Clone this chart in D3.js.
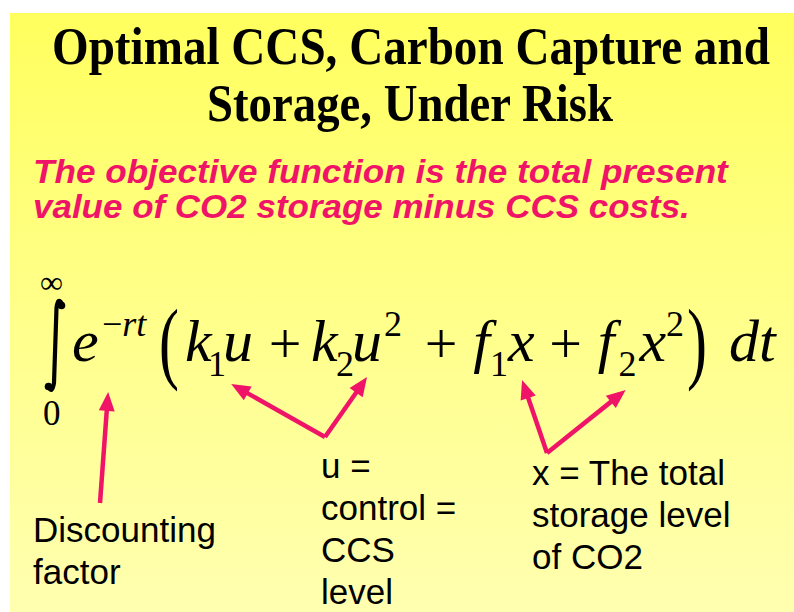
<!DOCTYPE html>
<html>
<head>
<meta charset="utf-8">
<script src="https://cdn.jsdelivr.net/npm/d3@7"></script>
<style>
  body { margin: 0; background: #fff; }
  svg { display: block; }
</style>
</head>
<body>
<div id="slide"></div>
<script>
// slide content
var titleLines = ["Optimal CCS, Carbon Capture and", "Storage, Under Risk"];
var subtitleLines = ["The objective function is the total present", "value of CO2 storage minus CCS costs."];
var integralUpper = "\u221E";
var integralLower = "0";

// formula tokens: text + role (var = italic, sub/sup = small)
var formulaText = ["e", "\u2212", "rt", "(", "k", "1", "u", "+", "k", "2", "u", "2", "+",
                   "f", "1", "x", "+", "f", "2", "x", "2", ")", "dt"];
var formulaRole = ["var", "supOp", "sup", "open", "var", "sub", "var", "op", "var", "sub", "var", "supNum", "op",
                   "var", "sub", "var", "op", "var", "sub", "var", "supNum", "close", "var"];
// tokens that are typeset together as one term
var formulaTerm = [0, 0, 0, 1, 2, 2, 2, 3, 4, 4, 4, 4, 5, 6, 6, 6, 7, 8, 8, 8, 8, 9, 10];

// notes under the formula
var labelLines = [
  ["Discounting", "factor"],
  ["u =", "control =", "CCS", "level"],
  ["x = The total", "storage level", "of CO2"]
];
// which label each arrow leaves from and which token it points at
var arrowLabel = [0, 1, 1, 2, 2];
var arrowToken = [1, 6, 10, 15, 18];

// layout
var width = 794, height = 612;
var pink = "#F01468";
var F = 60, FS = 36, FOP = 58;
var baseY = 361;
var gaps = [0, 3.4, 0, 12.7, 6, -3.6, -3, 15.6, 9.6, -1.6, -2, 2, 22.6, 15.9, 0, 0, 14.6, 15.9, 4, 3, 0, 3, 22];
var arrowAt = [0.3, 0.27, 0.5, 0.53, 0.4];
var arrowDrop = [31, 23, 16, 19, 29];
var labelX = [33, 321, 532];
var labelY = [542, 478, 485];
var labelStart = [[67, -39], [4, -41], [15, -32]];

var svg = d3.select('#slide')
    .append('svg')
    .attr('width', width)
    .attr('height', height);

// yellow background
var grad = svg.append('defs').append('linearGradient')
    .attr('id', 'bg')
    .attr('x1', 0).attr('y1', 0).attr('x2', 0).attr('y2', 1);
grad.append('stop').attr('offset', '0%').attr('stop-color', '#FFFF5E');
grad.append('stop').attr('offset', '45%').attr('stop-color', '#FFFF86');
grad.append('stop').attr('offset', '100%').attr('stop-color', '#FFFFB0');

svg.append('rect')
    .attr('x', 10).attr('y', 13)
    .attr('width', width - 10).attr('height', height - 13)
    .attr('fill', 'url(#bg)');

// fit a line of text into a given width by squeezing it horizontally
function fitLine(sel, x, y, w) {
    sel.each(function(d, i) {
        var t = d3.select(this);
        var nat = this.getComputedTextLength();
        t.attr('transform', 'translate(' + x[i] + ',' + y[i] + ') scale(' + (w[i] / nat) + ',1)');
    });
}

// title
var titleX = [52, 207], titleW = [718, 406], titleY = [64, 121];
var title = svg.selectAll('text.title')
    .data(titleLines)
    .enter()
    .append('text')
    .attr('class', 'title')
    .style('font-family', '"Liberation Serif", "Times New Roman", serif')
    .style('font-weight', 'bold')
    .style('font-size', '53px')
    .attr('fill', '#000')
    .text(d => d);
fitLine(title, titleX, titleY, titleW);

// subtitle
var subX = [33, 33], subW = [695, 657], subY = [183, 218];
var sub = svg.selectAll('text.sub')
    .data(subtitleLines)
    .enter()
    .append('text')
    .attr('class', 'sub')
    .style('font-family', '"Liberation Sans", Arial, sans-serif')
    .style('font-weight', 'bold')
    .style('font-style', 'italic')
    .style('font-size', '34px')
    .attr('fill', pink)
    .text(d => d);
fitLine(sub, subX, subY, subW);

// integral sign
var eq = svg.append('g').attr('class', 'formula');
var integral = d3.path();
integral.moveTo(62, 304);
integral.quadraticCurveTo(58, 296, 56.5, 308);
integral.lineTo(54, 383);
integral.quadraticCurveTo(52, 395, 48, 386);
eq.append('path')
    .attr('d', integral.toString())
    .attr('fill', 'none')
    .attr('stroke', '#000')
    .attr('stroke-width', 4.2)
    .attr('stroke-linecap', 'round');
eq.append('circle').attr('cx', 61.5).attr('cy', 305.5).attr('r', 3.8).attr('fill', '#000');
eq.append('circle').attr('cx', 48.5).attr('cy', 386.5).attr('r', 3.8).attr('fill', '#000');

var serif = '"Liberation Serif", "Times New Roman", serif';
eq.append('text')
    .attr('x', 40).attr('y', 293)
    .style('font-family', serif).style('font-size', '32px')
    .text(integralUpper);
eq.append('text')
    .attr('x', 43).attr('y', 425)
    .style('font-family', serif).style('font-size', '35px')
    .text(integralLower);

// formula tokens flowed left to right
var roleSize = {var: F, op: FOP, open: F, close: F, sub: FS, sup: FS, supOp: FS, supNum: FS};
var roleItalic = {var: true, sup: true};
var roleDy = {sub: 15, sup: -25, supOp: -25, supNum: -25, op: 2};

function styleToken(s, i) {
    var role = formulaRole[i];
    return s.style('font-family', serif)
        .style('font-size', roleSize[role] + 'px')
        .style('font-style', roleItalic[role] ? 'italic' : 'normal');
}

// measure each token
var tokenX = [], tokenW = [];
var probe = svg.append('text').attr('x', 0).attr('y', -100);
var cursor = 72;
formulaText.forEach(function(t, i) {
    styleToken(probe, i).text(t);
    var w = probe.node().getComputedTextLength();
    cursor += gaps[i];
    tokenX.push(cursor);
    tokenW.push(w);
    cursor += w;
});
probe.remove();

// draw one text element per term, tokens as tspans
d3.groups(d3.range(formulaText.length), i => formulaTerm[i]).forEach(function(g) {
    var idx = g[1];
    var role0 = formulaRole[idx[0]];
    var text;
    if (role0 === 'open' || role0 === 'close') {
        text = eq.append('g')
            .attr('transform', 'translate(' + tokenX[idx[0]] + ',349) scale(1,1.5)')
            .append('text');
        styleToken(text, idx[0]).attr('x', 0).attr('y', 15.5).text(formulaText[idx[0]]);
        return;
    }
    text = eq.append('text').attr('fill', '#000');
    idx.forEach(function(i) {
        var span = text.append('tspan')
            .attr('x', tokenX[i])
            .attr('y', baseY + (roleDy[formulaRole[i]] || 0))
            .text(formulaText[i]);
        styleToken(span, i);
    });
});

// labels
var labels = svg.selectAll('g.label')
    .data(labelLines)
    .enter()
    .append('g')
    .attr('class', 'label');
labels.selectAll('text')
    .data((d, i) => d.map(s => ({s: s, li: i})))
    .enter()
    .append('text')
    .attr('x', d => labelX[d.li])
    .attr('y', (d, j) => labelY[d.li] + j * 42)
    .style('font-family', '"Liberation Sans", Arial, sans-serif')
    .style('font-size', '35px')
    .attr('fill', '#000')
    .text(d => d.s);

// arrows
var headLen = 19, headW = 16;
arrowToken.forEach(function(ti, i) {
    var li = arrowLabel[i];
    var x0 = labelX[li] + labelStart[li][0];
    var y0 = labelY[li] + labelStart[li][1];
    var x1 = tokenX[ti] + tokenW[ti] * arrowAt[i];
    var y1 = baseY + arrowDrop[i];
    var dx = x1 - x0, dy = y1 - y0;
    var len = Math.sqrt(dx * dx + dy * dy);
    var ux = dx / len, uy = dy / len;
    var bx = x1 - ux * headLen, by = y1 - uy * headLen;
    svg.append('line')
        .attr('x1', x0).attr('y1', y0)
        .attr('x2', bx + ux * 2).attr('y2', by + uy * 2)
        .attr('stroke', pink)
        .attr('stroke-width', 4.5);
    svg.append('polygon')
        .attr('points', [
            [x1, y1],
            [bx - uy * headW / 2, by + ux * headW / 2],
            [bx + uy * headW / 2, by - ux * headW / 2]
        ].map(p => p.join(',')).join(' '))
        .attr('fill', pink);
});
</script>
</body>
</html>
